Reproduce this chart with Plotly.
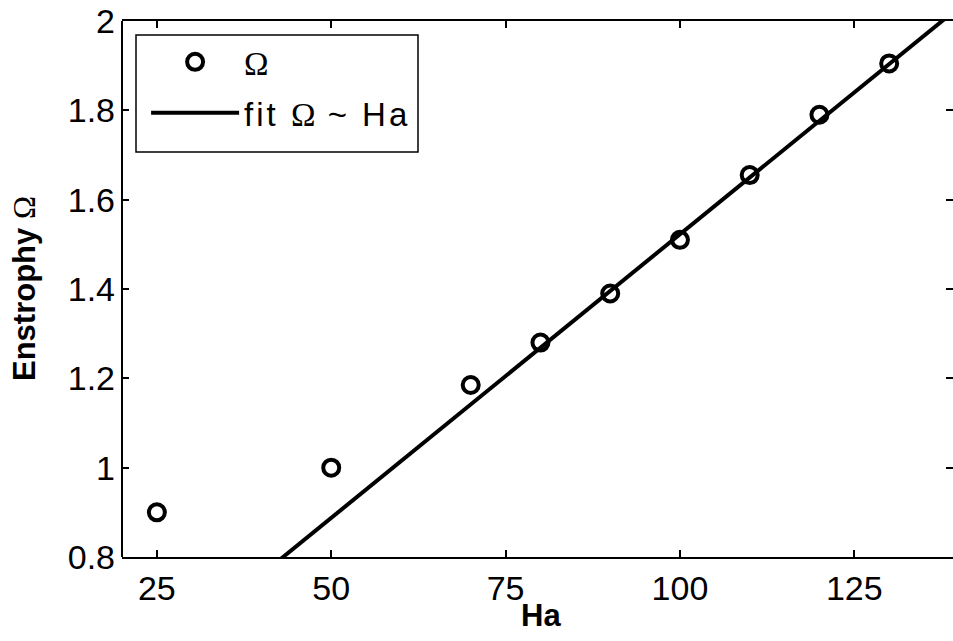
import plotly.graph_objects as go

# Data
ha_values = [25, 50, 70, 80, 90, 100, 110, 120, 130]
enstrophy_values = [0.90, 1.00, 1.185, 1.28, 1.39, 1.51, 1.655, 1.79, 1.905]

# linear fit Omega ~ Ha (coefficients)
fit_slope = 0.0127
fit_intercept = 0.2526
fit_x = [40, 142]
fit_y = [fit_intercept + fit_slope * x for x in fit_x]

x_ticks = [25, 50, 75, 100, 125]
y_ticks = [0.8, 1.0, 1.2, 1.4, 1.6, 1.8, 2.0]
y_tick_labels = ["0.8", "1", "1.2", "1.4", "1.6", "1.8", "2"]

SERIF = "Liberation Serif"
SANS = "Liberation Sans, Arial, Helvetica, sans-serif"
omega = f"<span style='font-family:{SERIF}'>Ω</span>"
sp = "letter-spacing:3px"

fig = go.Figure()
fig.add_trace(go.Scatter(
    x=ha_values, y=enstrophy_values, mode="markers",
    name=omega, legendgroup="a",
    marker=dict(symbol="circle-open", size=16, color="black",
                line=dict(width=4, color="black")),
))
fig.add_trace(go.Scatter(
    x=fit_x, y=fit_y, mode="lines",
    name=(f"<span style='{sp}'>fit </span>{omega}"
          f"<span style='{sp}'> ~ Ha</span>"),
    legendgroup="b",
    line=dict(color="black", width=4),
))

axis_common = dict(
    ticks="inside", ticklen=7, tickwidth=1.5, tickcolor="black",
    mirror="ticks", showgrid=False, zeroline=False, automargin=False,
    ticklabeloverflow="allow",
    tickfont=dict(family=SANS, size=34, color="black"),
)

fig.update_layout(
    width=953, height=641,
    margin=dict(l=122, r=0, t=21, b=84),
    plot_bgcolor="white", paper_bgcolor="white",
    font=dict(family=SANS, size=33, color="black"),
    xaxis=dict(range=[20, 139.15], tickvals=x_ticks,
               ticktext=[str(v) for v in x_ticks],
               showline=True, linecolor="black", linewidth=2, **axis_common),
    yaxis=dict(range=[0.8, 2.0], tickvals=y_ticks, ticktext=y_tick_labels,
               showline=False, ticklabelstandoff=6, **axis_common),
    legend=dict(x=0.029, y=0.976, xanchor="left", yanchor="top",
                borderwidth=0, bgcolor="rgba(0,0,0,0)",
                font=dict(family=SANS, size=33, color="black"),
                traceorder="grouped", tracegroupgap=5, itemwidth=88),
    showlegend=True,
    shapes=[
        # left axis spine
        dict(type="line", xref="paper", yref="paper", x0=0, x1=0, y0=0, y1=1,
             line=dict(color="black", width=2)),
        # legend box
        dict(type="rect", xref="paper", yref="paper",
             x0=0.01685, x1=0.3562, y0=0.7556, y1=0.9739,
             line=dict(color="black", width=1.5)),
    ],
    annotations=[
        dict(text=f"<b>Enstrophy</b> {omega}", textangle=-90,
             xref="paper", yref="paper", x=-0.1179, y=0.5,
             xanchor="center", yanchor="middle", showarrow=False,
             font=dict(family=SANS, size=31, color="black")),
        dict(text="<b>Ha</b>", xref="paper", yref="paper", x=0.504, y=-0.11,
             xanchor="center", yanchor="middle", showarrow=False,
             font=dict(family=SANS, size=31, color="black")),
    ],
)

fig.write_html("out.html",
               config={"displayModeBar": False},
               post_script="document.body.style.margin='0';")
